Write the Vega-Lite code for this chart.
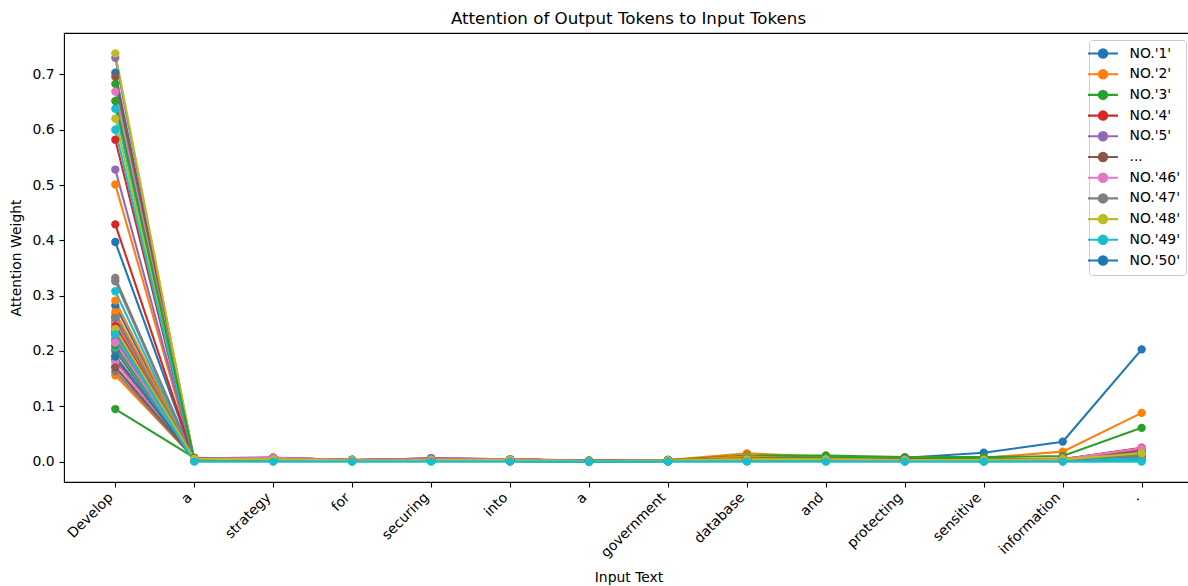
{
  "$schema": "https://vega.github.io/schema/vega-lite/v6.json",
  "autosize": {"type": "none"},
  "padding": {"left": 64, "top": 33, "right": 0, "bottom": 104},
  "width": 1129,
  "height": 449,
  "title": {"text": "Attention of Output Tokens to Input Tokens", "baseline": "alphabetic", "offset": 9, "dy": 17},
  "config": {
    "font": "DejaVu Sans",
    "view": {"stroke": "#000000", "strokeWidth": 1.1},
    "title": {"fontSize": 16.7, "fontWeight": "normal", "color": "#000000", "font": "DejaVu Sans"},
    "axis": {"grid": false, "domain": false, "labelFontSize": 13.9, "titleFontSize": 13.9, "labelColor": "#000000", "titleColor": "#000000", "tickColor": "#000000", "tickSize": 5, "tickWidth": 1.1, "labelPadding": 5, "titleFontWeight": "normal", "labelFont": "DejaVu Sans", "titleFont": "DejaVu Sans"},
    "legend": {"labelFont": "DejaVu Sans"}
  },
  "data": {"values": [
    {"s":1,"i":0,"v":0.282},{"s":1,"i":1,"v":0.005},{"s":1,"i":2,"v":0.004},{"s":1,"i":3,"v":0.002},{"s":1,"i":4,"v":0.003},{"s":1,"i":5,"v":0.003},{"s":1,"i":6,"v":0.001},{"s":1,"i":7,"v":0.002},{"s":1,"i":8,"v":0.008},{"s":1,"i":9,"v":0.008},{"s":1,"i":10,"v":0.007},{"s":1,"i":11,"v":0.016},{"s":1,"i":12,"v":0.036},{"s":1,"i":13,"v":0.203},
    {"s":2,"i":0,"v":0.291},{"s":2,"i":1,"v":0.004},{"s":2,"i":2,"v":0.003},{"s":2,"i":3,"v":0.002},{"s":2,"i":4,"v":0.003},{"s":2,"i":5,"v":0.003},{"s":2,"i":6,"v":0.001},{"s":2,"i":7,"v":0.003},{"s":2,"i":8,"v":0.015},{"s":2,"i":9,"v":0.009},{"s":2,"i":10,"v":0.006},{"s":2,"i":11,"v":0.007},{"s":2,"i":12,"v":0.018},{"s":2,"i":13,"v":0.088},
    {"s":3,"i":0,"v":0.253},{"s":3,"i":1,"v":0.004},{"s":3,"i":2,"v":0.003},{"s":3,"i":3,"v":0.002},{"s":3,"i":4,"v":0.003},{"s":3,"i":5,"v":0.002},{"s":3,"i":6,"v":0.001},{"s":3,"i":7,"v":0.003},{"s":3,"i":8,"v":0.011},{"s":3,"i":9,"v":0.011},{"s":3,"i":10,"v":0.008},{"s":3,"i":11,"v":0.008},{"s":3,"i":12,"v":0.010},{"s":3,"i":13,"v":0.061},
    {"s":4,"i":0,"v":0.184},{"s":4,"i":1,"v":0.005},{"s":4,"i":2,"v":0.004},{"s":4,"i":3,"v":0.002},{"s":4,"i":4,"v":0.004},{"s":4,"i":5,"v":0.003},{"s":4,"i":6,"v":0.001},{"s":4,"i":7,"v":0.002},{"s":4,"i":8,"v":0.005},{"s":4,"i":9,"v":0.005},{"s":4,"i":10,"v":0.004},{"s":4,"i":11,"v":0.004},{"s":4,"i":12,"v":0.004},{"s":4,"i":13,"v":0.025},
    {"s":5,"i":0,"v":0.263},{"s":5,"i":1,"v":0.004},{"s":5,"i":2,"v":0.004},{"s":5,"i":3,"v":0.002},{"s":5,"i":4,"v":0.006},{"s":5,"i":5,"v":0.004},{"s":5,"i":6,"v":0.001},{"s":5,"i":7,"v":0.002},{"s":5,"i":8,"v":0.005},{"s":5,"i":9,"v":0.005},{"s":5,"i":10,"v":0.004},{"s":5,"i":11,"v":0.003},{"s":5,"i":12,"v":0.004},{"s":5,"i":13,"v":0.018},
    {"s":6,"i":0,"v":0.260},{"s":6,"i":1,"v":0.006},{"s":6,"i":2,"v":0.007},{"s":6,"i":3,"v":0.003},{"s":6,"i":4,"v":0.004},{"s":6,"i":5,"v":0.004},{"s":6,"i":6,"v":0.001},{"s":6,"i":7,"v":0.002},{"s":6,"i":8,"v":0.005},{"s":6,"i":9,"v":0.005},{"s":6,"i":10,"v":0.004},{"s":6,"i":11,"v":0.003},{"s":6,"i":12,"v":0.004},{"s":6,"i":13,"v":0.020},
    {"s":7,"i":0,"v":0.250},{"s":7,"i":1,"v":0.005},{"s":7,"i":2,"v":0.007},{"s":7,"i":3,"v":0.003},{"s":7,"i":4,"v":0.004},{"s":7,"i":5,"v":0.004},{"s":7,"i":6,"v":0.001},{"s":7,"i":7,"v":0.002},{"s":7,"i":8,"v":0.004},{"s":7,"i":9,"v":0.004},{"s":7,"i":10,"v":0.003},{"s":7,"i":11,"v":0.003},{"s":7,"i":12,"v":0.003},{"s":7,"i":13,"v":0.022},
    {"s":8,"i":0,"v":0.332},{"s":8,"i":1,"v":0.004},{"s":8,"i":2,"v":0.003},{"s":8,"i":3,"v":0.002},{"s":8,"i":4,"v":0.003},{"s":8,"i":5,"v":0.003},{"s":8,"i":6,"v":0.001},{"s":8,"i":7,"v":0.002},{"s":8,"i":8,"v":0.004},{"s":8,"i":9,"v":0.004},{"s":8,"i":10,"v":0.003},{"s":8,"i":11,"v":0.002},{"s":8,"i":12,"v":0.003},{"s":8,"i":13,"v":0.012},
    {"s":9,"i":0,"v":0.225},{"s":9,"i":1,"v":0.004},{"s":9,"i":2,"v":0.003},{"s":9,"i":3,"v":0.002},{"s":9,"i":4,"v":0.003},{"s":9,"i":5,"v":0.003},{"s":9,"i":6,"v":0.001},{"s":9,"i":7,"v":0.002},{"s":9,"i":8,"v":0.004},{"s":9,"i":9,"v":0.004},{"s":9,"i":10,"v":0.003},{"s":9,"i":11,"v":0.003},{"s":9,"i":12,"v":0.003},{"s":9,"i":13,"v":0.016},
    {"s":10,"i":0,"v":0.308},{"s":10,"i":1,"v":0.003},{"s":10,"i":2,"v":0.002},{"s":10,"i":3,"v":0.001},{"s":10,"i":4,"v":0.002},{"s":10,"i":5,"v":0.002},{"s":10,"i":6,"v":0.001},{"s":10,"i":7,"v":0.001},{"s":10,"i":8,"v":0.002},{"s":10,"i":9,"v":0.002},{"s":10,"i":10,"v":0.002},{"s":10,"i":11,"v":0.001},{"s":10,"i":12,"v":0.002},{"s":10,"i":13,"v":0.005},
    {"s":11,"i":0,"v":0.703},{"s":11,"i":1,"v":0.002},{"s":11,"i":2,"v":0.002},{"s":11,"i":3,"v":0.001},{"s":11,"i":4,"v":0.002},{"s":11,"i":5,"v":0.002},{"s":11,"i":6,"v":0.000},{"s":11,"i":7,"v":0.001},{"s":11,"i":8,"v":0.002},{"s":11,"i":9,"v":0.002},{"s":11,"i":10,"v":0.002},{"s":11,"i":11,"v":0.001},{"s":11,"i":12,"v":0.001},{"s":11,"i":13,"v":0.004},
    {"s":12,"i":0,"v":0.501},{"s":12,"i":1,"v":0.003},{"s":12,"i":2,"v":0.002},{"s":12,"i":3,"v":0.001},{"s":12,"i":4,"v":0.002},{"s":12,"i":5,"v":0.002},{"s":12,"i":6,"v":0.001},{"s":12,"i":7,"v":0.001},{"s":12,"i":8,"v":0.003},{"s":12,"i":9,"v":0.002},{"s":12,"i":10,"v":0.002},{"s":12,"i":11,"v":0.001},{"s":12,"i":12,"v":0.002},{"s":12,"i":13,"v":0.006},
    {"s":13,"i":0,"v":0.683},{"s":13,"i":1,"v":0.002},{"s":13,"i":2,"v":0.001},{"s":13,"i":3,"v":0.001},{"s":13,"i":4,"v":0.002},{"s":13,"i":5,"v":0.001},{"s":13,"i":6,"v":0.000},{"s":13,"i":7,"v":0.001},{"s":13,"i":8,"v":0.002},{"s":13,"i":9,"v":0.002},{"s":13,"i":10,"v":0.001},{"s":13,"i":11,"v":0.001},{"s":13,"i":12,"v":0.001},{"s":13,"i":13,"v":0.004},
    {"s":14,"i":0,"v":0.582},{"s":14,"i":1,"v":0.003},{"s":14,"i":2,"v":0.002},{"s":14,"i":3,"v":0.001},{"s":14,"i":4,"v":0.002},{"s":14,"i":5,"v":0.002},{"s":14,"i":6,"v":0.001},{"s":14,"i":7,"v":0.001},{"s":14,"i":8,"v":0.002},{"s":14,"i":9,"v":0.002},{"s":14,"i":10,"v":0.002},{"s":14,"i":11,"v":0.001},{"s":14,"i":12,"v":0.002},{"s":14,"i":13,"v":0.005},
    {"s":15,"i":0,"v":0.730},{"s":15,"i":1,"v":0.002},{"s":15,"i":2,"v":0.001},{"s":15,"i":3,"v":0.001},{"s":15,"i":4,"v":0.002},{"s":15,"i":5,"v":0.001},{"s":15,"i":6,"v":0.000},{"s":15,"i":7,"v":0.001},{"s":15,"i":8,"v":0.001},{"s":15,"i":9,"v":0.001},{"s":15,"i":10,"v":0.001},{"s":15,"i":11,"v":0.001},{"s":15,"i":12,"v":0.001},{"s":15,"i":13,"v":0.003},
    {"s":16,"i":0,"v":0.696},{"s":16,"i":1,"v":0.002},{"s":16,"i":2,"v":0.002},{"s":16,"i":3,"v":0.001},{"s":16,"i":4,"v":0.002},{"s":16,"i":5,"v":0.001},{"s":16,"i":6,"v":0.000},{"s":16,"i":7,"v":0.001},{"s":16,"i":8,"v":0.002},{"s":16,"i":9,"v":0.001},{"s":16,"i":10,"v":0.001},{"s":16,"i":11,"v":0.001},{"s":16,"i":12,"v":0.001},{"s":16,"i":13,"v":0.003},
    {"s":17,"i":0,"v":0.669},{"s":17,"i":1,"v":0.002},{"s":17,"i":2,"v":0.002},{"s":17,"i":3,"v":0.001},{"s":17,"i":4,"v":0.002},{"s":17,"i":5,"v":0.001},{"s":17,"i":6,"v":0.000},{"s":17,"i":7,"v":0.001},{"s":17,"i":8,"v":0.002},{"s":17,"i":9,"v":0.002},{"s":17,"i":10,"v":0.001},{"s":17,"i":11,"v":0.001},{"s":17,"i":12,"v":0.001},{"s":17,"i":13,"v":0.004},
    {"s":18,"i":0,"v":0.326},{"s":18,"i":1,"v":0.004},{"s":18,"i":2,"v":0.004},{"s":18,"i":3,"v":0.002},{"s":18,"i":4,"v":0.003},{"s":18,"i":5,"v":0.003},{"s":18,"i":6,"v":0.001},{"s":18,"i":7,"v":0.002},{"s":18,"i":8,"v":0.004},{"s":18,"i":9,"v":0.004},{"s":18,"i":10,"v":0.003},{"s":18,"i":11,"v":0.002},{"s":18,"i":12,"v":0.003},{"s":18,"i":13,"v":0.013},
    {"s":19,"i":0,"v":0.738},{"s":19,"i":1,"v":0.002},{"s":19,"i":2,"v":0.001},{"s":19,"i":3,"v":0.001},{"s":19,"i":4,"v":0.001},{"s":19,"i":5,"v":0.001},{"s":19,"i":6,"v":0.000},{"s":19,"i":7,"v":0.001},{"s":19,"i":8,"v":0.001},{"s":19,"i":9,"v":0.001},{"s":19,"i":10,"v":0.001},{"s":19,"i":11,"v":0.001},{"s":19,"i":12,"v":0.001},{"s":19,"i":13,"v":0.003},
    {"s":20,"i":0,"v":0.638},{"s":20,"i":1,"v":0.002},{"s":20,"i":2,"v":0.002},{"s":20,"i":3,"v":0.001},{"s":20,"i":4,"v":0.002},{"s":20,"i":5,"v":0.001},{"s":20,"i":6,"v":0.000},{"s":20,"i":7,"v":0.001},{"s":20,"i":8,"v":0.002},{"s":20,"i":9,"v":0.002},{"s":20,"i":10,"v":0.001},{"s":20,"i":11,"v":0.001},{"s":20,"i":12,"v":0.001},{"s":20,"i":13,"v":0.004},
    {"s":21,"i":0,"v":0.397},{"s":21,"i":1,"v":0.004},{"s":21,"i":2,"v":0.003},{"s":21,"i":3,"v":0.002},{"s":21,"i":4,"v":0.003},{"s":21,"i":5,"v":0.003},{"s":21,"i":6,"v":0.001},{"s":21,"i":7,"v":0.002},{"s":21,"i":8,"v":0.004},{"s":21,"i":9,"v":0.003},{"s":21,"i":10,"v":0.003},{"s":21,"i":11,"v":0.002},{"s":21,"i":12,"v":0.003},{"s":21,"i":13,"v":0.010},
    {"s":22,"i":0,"v":0.156},{"s":22,"i":1,"v":0.006},{"s":22,"i":2,"v":0.005},{"s":22,"i":3,"v":0.003},{"s":22,"i":4,"v":0.004},{"s":22,"i":5,"v":0.004},{"s":22,"i":6,"v":0.002},{"s":22,"i":7,"v":0.003},{"s":22,"i":8,"v":0.007},{"s":22,"i":9,"v":0.006},{"s":22,"i":10,"v":0.005},{"s":22,"i":11,"v":0.004},{"s":22,"i":12,"v":0.005},{"s":22,"i":13,"v":0.015},
    {"s":23,"i":0,"v":0.095},{"s":23,"i":1,"v":0.007},{"s":23,"i":2,"v":0.005},{"s":23,"i":3,"v":0.003},{"s":23,"i":4,"v":0.005},{"s":23,"i":5,"v":0.004},{"s":23,"i":6,"v":0.002},{"s":23,"i":7,"v":0.003},{"s":23,"i":8,"v":0.006},{"s":23,"i":9,"v":0.006},{"s":23,"i":10,"v":0.005},{"s":23,"i":11,"v":0.004},{"s":23,"i":12,"v":0.005},{"s":23,"i":13,"v":0.014},
    {"s":24,"i":0,"v":0.429},{"s":24,"i":1,"v":0.003},{"s":24,"i":2,"v":0.003},{"s":24,"i":3,"v":0.002},{"s":24,"i":4,"v":0.003},{"s":24,"i":5,"v":0.002},{"s":24,"i":6,"v":0.001},{"s":24,"i":7,"v":0.002},{"s":24,"i":8,"v":0.003},{"s":24,"i":9,"v":0.003},{"s":24,"i":10,"v":0.002},{"s":24,"i":11,"v":0.002},{"s":24,"i":12,"v":0.002},{"s":24,"i":13,"v":0.008},
    {"s":25,"i":0,"v":0.528},{"s":25,"i":1,"v":0.003},{"s":25,"i":2,"v":0.002},{"s":25,"i":3,"v":0.001},{"s":25,"i":4,"v":0.003},{"s":25,"i":5,"v":0.002},{"s":25,"i":6,"v":0.001},{"s":25,"i":7,"v":0.001},{"s":25,"i":8,"v":0.002},{"s":25,"i":9,"v":0.002},{"s":25,"i":10,"v":0.002},{"s":25,"i":11,"v":0.001},{"s":25,"i":12,"v":0.002},{"s":25,"i":13,"v":0.006},
    {"s":26,"i":0,"v":0.235},{"s":26,"i":1,"v":0.005},{"s":26,"i":2,"v":0.006},{"s":26,"i":3,"v":0.003},{"s":26,"i":4,"v":0.004},{"s":26,"i":5,"v":0.004},{"s":26,"i":6,"v":0.001},{"s":26,"i":7,"v":0.002},{"s":26,"i":8,"v":0.005},{"s":26,"i":9,"v":0.004},{"s":26,"i":10,"v":0.004},{"s":26,"i":11,"v":0.003},{"s":26,"i":12,"v":0.004},{"s":26,"i":13,"v":0.019},
    {"s":27,"i":0,"v":0.203},{"s":27,"i":1,"v":0.005},{"s":27,"i":2,"v":0.006},{"s":27,"i":3,"v":0.003},{"s":27,"i":4,"v":0.004},{"s":27,"i":5,"v":0.004},{"s":27,"i":6,"v":0.001},{"s":27,"i":7,"v":0.002},{"s":27,"i":8,"v":0.004},{"s":27,"i":9,"v":0.004},{"s":27,"i":10,"v":0.003},{"s":27,"i":11,"v":0.003},{"s":27,"i":12,"v":0.004},{"s":27,"i":13,"v":0.021},
    {"s":28,"i":0,"v":0.239},{"s":28,"i":1,"v":0.004},{"s":28,"i":2,"v":0.004},{"s":28,"i":3,"v":0.002},{"s":28,"i":4,"v":0.003},{"s":28,"i":5,"v":0.003},{"s":28,"i":6,"v":0.001},{"s":28,"i":7,"v":0.002},{"s":28,"i":8,"v":0.004},{"s":28,"i":9,"v":0.004},{"s":28,"i":10,"v":0.003},{"s":28,"i":11,"v":0.002},{"s":28,"i":12,"v":0.003},{"s":28,"i":13,"v":0.012},
    {"s":29,"i":0,"v":0.620},{"s":29,"i":1,"v":0.002},{"s":29,"i":2,"v":0.002},{"s":29,"i":3,"v":0.001},{"s":29,"i":4,"v":0.002},{"s":29,"i":5,"v":0.001},{"s":29,"i":6,"v":0.000},{"s":29,"i":7,"v":0.001},{"s":29,"i":8,"v":0.002},{"s":29,"i":9,"v":0.002},{"s":29,"i":10,"v":0.001},{"s":29,"i":11,"v":0.001},{"s":29,"i":12,"v":0.001},{"s":29,"i":13,"v":0.005},
    {"s":30,"i":0,"v":0.600},{"s":30,"i":1,"v":0.002},{"s":30,"i":2,"v":0.002},{"s":30,"i":3,"v":0.001},{"s":30,"i":4,"v":0.002},{"s":30,"i":5,"v":0.001},{"s":30,"i":6,"v":0.000},{"s":30,"i":7,"v":0.001},{"s":30,"i":8,"v":0.002},{"s":30,"i":9,"v":0.002},{"s":30,"i":10,"v":0.001},{"s":30,"i":11,"v":0.001},{"s":30,"i":12,"v":0.001},{"s":30,"i":13,"v":0.004},
    {"s":31,"i":0,"v":0.230},{"s":31,"i":1,"v":0.005},{"s":31,"i":2,"v":0.004},{"s":31,"i":3,"v":0.002},{"s":31,"i":4,"v":0.003},{"s":31,"i":5,"v":0.003},{"s":31,"i":6,"v":0.001},{"s":31,"i":7,"v":0.002},{"s":31,"i":8,"v":0.005},{"s":31,"i":9,"v":0.004},{"s":31,"i":10,"v":0.004},{"s":31,"i":11,"v":0.003},{"s":31,"i":12,"v":0.004},{"s":31,"i":13,"v":0.011},
    {"s":32,"i":0,"v":0.220},{"s":32,"i":1,"v":0.005},{"s":32,"i":2,"v":0.004},{"s":32,"i":3,"v":0.002},{"s":32,"i":4,"v":0.003},{"s":32,"i":5,"v":0.003},{"s":32,"i":6,"v":0.001},{"s":32,"i":7,"v":0.002},{"s":32,"i":8,"v":0.009},{"s":32,"i":9,"v":0.005},{"s":32,"i":10,"v":0.004},{"s":32,"i":11,"v":0.004},{"s":32,"i":12,"v":0.006},{"s":32,"i":13,"v":0.014},
    {"s":33,"i":0,"v":0.652},{"s":33,"i":1,"v":0.002},{"s":33,"i":2,"v":0.002},{"s":33,"i":3,"v":0.001},{"s":33,"i":4,"v":0.002},{"s":33,"i":5,"v":0.001},{"s":33,"i":6,"v":0.000},{"s":33,"i":7,"v":0.001},{"s":33,"i":8,"v":0.003},{"s":33,"i":9,"v":0.003},{"s":33,"i":10,"v":0.002},{"s":33,"i":11,"v":0.001},{"s":33,"i":12,"v":0.002},{"s":33,"i":13,"v":0.005},
    {"s":34,"i":0,"v":0.190},{"s":34,"i":1,"v":0.005},{"s":34,"i":2,"v":0.004},{"s":34,"i":3,"v":0.002},{"s":34,"i":4,"v":0.004},{"s":34,"i":5,"v":0.003},{"s":34,"i":6,"v":0.001},{"s":34,"i":7,"v":0.002},{"s":34,"i":8,"v":0.005},{"s":34,"i":9,"v":0.005},{"s":34,"i":10,"v":0.004},{"s":34,"i":11,"v":0.003},{"s":34,"i":12,"v":0.004},{"s":34,"i":13,"v":0.024},
    {"s":35,"i":0,"v":0.172},{"s":35,"i":1,"v":0.005},{"s":35,"i":2,"v":0.004},{"s":35,"i":3,"v":0.002},{"s":35,"i":4,"v":0.006},{"s":35,"i":5,"v":0.004},{"s":35,"i":6,"v":0.001},{"s":35,"i":7,"v":0.002},{"s":35,"i":8,"v":0.005},{"s":35,"i":9,"v":0.004},{"s":35,"i":10,"v":0.004},{"s":35,"i":11,"v":0.003},{"s":35,"i":12,"v":0.004},{"s":35,"i":13,"v":0.017},
    {"s":36,"i":0,"v":0.200},{"s":36,"i":1,"v":0.005},{"s":36,"i":2,"v":0.007},{"s":36,"i":3,"v":0.003},{"s":36,"i":4,"v":0.004},{"s":36,"i":5,"v":0.004},{"s":36,"i":6,"v":0.001},{"s":36,"i":7,"v":0.002},{"s":36,"i":8,"v":0.004},{"s":36,"i":9,"v":0.004},{"s":36,"i":10,"v":0.004},{"s":36,"i":11,"v":0.003},{"s":36,"i":12,"v":0.004},{"s":36,"i":13,"v":0.019},
    {"s":37,"i":0,"v":0.180},{"s":37,"i":1,"v":0.005},{"s":37,"i":2,"v":0.007},{"s":37,"i":3,"v":0.003},{"s":37,"i":4,"v":0.004},{"s":37,"i":5,"v":0.004},{"s":37,"i":6,"v":0.001},{"s":37,"i":7,"v":0.002},{"s":37,"i":8,"v":0.004},{"s":37,"i":9,"v":0.004},{"s":37,"i":10,"v":0.003},{"s":37,"i":11,"v":0.003},{"s":37,"i":12,"v":0.004},{"s":37,"i":13,"v":0.023},
    {"s":38,"i":0,"v":0.163},{"s":38,"i":1,"v":0.005},{"s":38,"i":2,"v":0.004},{"s":38,"i":3,"v":0.002},{"s":38,"i":4,"v":0.003},{"s":38,"i":5,"v":0.003},{"s":38,"i":6,"v":0.001},{"s":38,"i":7,"v":0.002},{"s":38,"i":8,"v":0.004},{"s":38,"i":9,"v":0.004},{"s":38,"i":10,"v":0.003},{"s":38,"i":11,"v":0.003},{"s":38,"i":12,"v":0.003},{"s":38,"i":13,"v":0.012},
    {"s":39,"i":0,"v":0.190},{"s":39,"i":1,"v":0.005},{"s":39,"i":2,"v":0.004},{"s":39,"i":3,"v":0.002},{"s":39,"i":4,"v":0.003},{"s":39,"i":5,"v":0.003},{"s":39,"i":6,"v":0.001},{"s":39,"i":7,"v":0.002},{"s":39,"i":8,"v":0.004},{"s":39,"i":9,"v":0.004},{"s":39,"i":10,"v":0.003},{"s":39,"i":11,"v":0.003},{"s":39,"i":12,"v":0.004},{"s":39,"i":13,"v":0.017},
    {"s":40,"i":0,"v":0.206},{"s":40,"i":1,"v":0.003},{"s":40,"i":2,"v":0.002},{"s":40,"i":3,"v":0.001},{"s":40,"i":4,"v":0.002},{"s":40,"i":5,"v":0.002},{"s":40,"i":6,"v":0.001},{"s":40,"i":7,"v":0.001},{"s":40,"i":8,"v":0.002},{"s":40,"i":9,"v":0.002},{"s":40,"i":10,"v":0.002},{"s":40,"i":11,"v":0.001},{"s":40,"i":12,"v":0.002},{"s":40,"i":13,"v":0.006},
    {"s":41,"i":0,"v":0.190},{"s":41,"i":1,"v":0.005},{"s":41,"i":2,"v":0.004},{"s":41,"i":3,"v":0.002},{"s":41,"i":4,"v":0.003},{"s":41,"i":5,"v":0.003},{"s":41,"i":6,"v":0.001},{"s":41,"i":7,"v":0.002},{"s":41,"i":8,"v":0.005},{"s":41,"i":9,"v":0.004},{"s":41,"i":10,"v":0.004},{"s":41,"i":11,"v":0.003},{"s":41,"i":12,"v":0.004},{"s":41,"i":13,"v":0.012},
    {"s":42,"i":0,"v":0.270},{"s":42,"i":1,"v":0.004},{"s":42,"i":2,"v":0.003},{"s":42,"i":3,"v":0.002},{"s":42,"i":4,"v":0.003},{"s":42,"i":5,"v":0.003},{"s":42,"i":6,"v":0.001},{"s":42,"i":7,"v":0.002},{"s":42,"i":8,"v":0.008},{"s":42,"i":9,"v":0.005},{"s":42,"i":10,"v":0.004},{"s":42,"i":11,"v":0.004},{"s":42,"i":12,"v":0.005},{"s":42,"i":13,"v":0.013},
    {"s":43,"i":0,"v":0.210},{"s":43,"i":1,"v":0.005},{"s":43,"i":2,"v":0.004},{"s":43,"i":3,"v":0.002},{"s":43,"i":4,"v":0.003},{"s":43,"i":5,"v":0.003},{"s":43,"i":6,"v":0.001},{"s":43,"i":7,"v":0.002},{"s":43,"i":8,"v":0.006},{"s":43,"i":9,"v":0.007},{"s":43,"i":10,"v":0.005},{"s":43,"i":11,"v":0.004},{"s":43,"i":12,"v":0.004},{"s":43,"i":13,"v":0.013},
    {"s":44,"i":0,"v":0.245},{"s":44,"i":1,"v":0.005},{"s":44,"i":2,"v":0.004},{"s":44,"i":3,"v":0.002},{"s":44,"i":4,"v":0.003},{"s":44,"i":5,"v":0.003},{"s":44,"i":6,"v":0.001},{"s":44,"i":7,"v":0.002},{"s":44,"i":8,"v":0.004},{"s":44,"i":9,"v":0.004},{"s":44,"i":10,"v":0.003},{"s":44,"i":11,"v":0.003},{"s":44,"i":12,"v":0.004},{"s":44,"i":13,"v":0.022},
    {"s":45,"i":0,"v":0.220},{"s":45,"i":1,"v":0.005},{"s":45,"i":2,"v":0.004},{"s":45,"i":3,"v":0.002},{"s":45,"i":4,"v":0.006},{"s":45,"i":5,"v":0.004},{"s":45,"i":6,"v":0.001},{"s":45,"i":7,"v":0.002},{"s":45,"i":8,"v":0.004},{"s":45,"i":9,"v":0.004},{"s":45,"i":10,"v":0.003},{"s":45,"i":11,"v":0.003},{"s":45,"i":12,"v":0.004},{"s":45,"i":13,"v":0.016},
    {"s":46,"i":0,"v":0.170},{"s":46,"i":1,"v":0.006},{"s":46,"i":2,"v":0.007},{"s":46,"i":3,"v":0.003},{"s":46,"i":4,"v":0.004},{"s":46,"i":5,"v":0.004},{"s":46,"i":6,"v":0.001},{"s":46,"i":7,"v":0.002},{"s":46,"i":8,"v":0.004},{"s":46,"i":9,"v":0.004},{"s":46,"i":10,"v":0.004},{"s":46,"i":11,"v":0.003},{"s":46,"i":12,"v":0.004},{"s":46,"i":13,"v":0.020},
    {"s":47,"i":0,"v":0.215},{"s":47,"i":1,"v":0.005},{"s":47,"i":2,"v":0.007},{"s":47,"i":3,"v":0.003},{"s":47,"i":4,"v":0.004},{"s":47,"i":5,"v":0.004},{"s":47,"i":6,"v":0.001},{"s":47,"i":7,"v":0.002},{"s":47,"i":8,"v":0.004},{"s":47,"i":9,"v":0.004},{"s":47,"i":10,"v":0.003},{"s":47,"i":11,"v":0.003},{"s":47,"i":12,"v":0.004},{"s":47,"i":13,"v":0.024},
    {"s":48,"i":0,"v":0.260},{"s":48,"i":1,"v":0.004},{"s":48,"i":2,"v":0.004},{"s":48,"i":3,"v":0.002},{"s":48,"i":4,"v":0.003},{"s":48,"i":5,"v":0.003},{"s":48,"i":6,"v":0.001},{"s":48,"i":7,"v":0.002},{"s":48,"i":8,"v":0.004},{"s":48,"i":9,"v":0.004},{"s":48,"i":10,"v":0.003},{"s":48,"i":11,"v":0.002},{"s":48,"i":12,"v":0.003},{"s":48,"i":13,"v":0.011},
    {"s":49,"i":0,"v":0.240},{"s":49,"i":1,"v":0.005},{"s":49,"i":2,"v":0.004},{"s":49,"i":3,"v":0.002},{"s":49,"i":4,"v":0.003},{"s":49,"i":5,"v":0.003},{"s":49,"i":6,"v":0.001},{"s":49,"i":7,"v":0.002},{"s":49,"i":8,"v":0.004},{"s":49,"i":9,"v":0.004},{"s":49,"i":10,"v":0.003},{"s":49,"i":11,"v":0.003},{"s":49,"i":12,"v":0.004},{"s":49,"i":13,"v":0.015},
    {"s":50,"i":0,"v":0.230},{"s":50,"i":1,"v":0.000},{"s":50,"i":2,"v":0.000},{"s":50,"i":3,"v":0.000},{"s":50,"i":4,"v":0.000},{"s":50,"i":5,"v":0.000},{"s":50,"i":6,"v":0.000},{"s":50,"i":7,"v":0.000},{"s":50,"i":8,"v":0.000},{"s":50,"i":9,"v":0.000},{"s":50,"i":10,"v":0.000},{"s":50,"i":11,"v":0.000},{"s":50,"i":12,"v":0.000},{"s":50,"i":13,"v":0.000}
  ]},
  "encoding": {
    "x": {
      "field": "i", "type": "quantitative",
      "scale": {"domain": [-0.65, 13.65], "nice": false, "zero": false},
      "axis": {
        "title": "Input Text",
        "values": [0,1,2,3,4,5,6,7,8,9,10,11,12,13],
        "labelExpr": "['Develop','a','strategy','for','securing','into','a','government','database','and','protecting','sensitive','information','.'][datum.value]",
        "labelAngle": -45, "labelAlign": "right", "labelBaseline": "bottom",
        "labelPadding": 13, "titlePadding": 11, "labelOverlap": false, "labelFlush": false
      }
    },
    "y": {
      "field": "v", "type": "quantitative",
      "scale": {"domain": [-0.0369, 0.7749], "nice": false, "zero": false},
      "axis": {"title": "Attention Weight", "values": [0,0.1,0.2,0.3,0.4,0.5,0.6,0.7], "format": ".1f", "titlePadding": 8, "labelFlush": false}
    },
    "color": {
      "field": "s", "type": "nominal",
      "scale": {
        "domain": [1,2,3,4,5,6,7,8,9,10,11,12,13,14,15,16,17,18,19,20,21,22,23,24,25,26,27,28,29,30,31,32,33,34,35,36,37,38,39,40,41,42,43,44,45,46,47,48,49,50],
        "range": ["#1f77b4","#ff7f0e","#2ca02c","#d62728","#9467bd","#8c564b","#e377c2","#7f7f7f","#bcbd22","#17becf",
                  "#1f77b4","#ff7f0e","#2ca02c","#d62728","#9467bd","#8c564b","#e377c2","#7f7f7f","#bcbd22","#17becf",
                  "#1f77b4","#ff7f0e","#2ca02c","#d62728","#9467bd","#8c564b","#e377c2","#7f7f7f","#bcbd22","#17becf",
                  "#1f77b4","#ff7f0e","#2ca02c","#d62728","#9467bd","#8c564b","#e377c2","#7f7f7f","#bcbd22","#17becf",
                  "#1f77b4","#ff7f0e","#2ca02c","#d62728","#9467bd","#8c564b","#e377c2","#7f7f7f","#bcbd22","#17becf"]
      },
      "legend": {
        "title": null,
        "values": [1,2,3,4,5,6,7,8,9,10,11],
        "labelExpr": "datum.value <= 5 ? \"NO.'\" + datum.value + \"'\" : datum.value == 6 ? '...' : \"NO.'\" + (datum.value + 39) + \"'\"",
        "orient": "top-right", "offset": 7, "padding": 6,
        "strokeColor": "#cccccc", "fillColor": "rgba(255,255,255,0.8)", "cornerRadius": 3,
        "rowPadding": 3.7, "labelFontSize": 13.9, "labelColor": "#000000", "labelOffset": 19,
        "symbolType": "M-2.5,0L2.5,0M0.7,0A0.7,0.7,0,1,1,-0.7,0A0.7,0.7,0,1,1,0.7,0Z",
        "symbolSize": 144, "symbolStrokeWidth": 2.1, "symbolOffset": 0.5,
        "encode": {"symbols": {"update": {"fill": {"scale": "color", "field": "value"}, "stroke": {"scale": "color", "field": "value"}, "opacity": {"value": 1}, "fillOpacity": {"value": 1}, "strokeOpacity": {"value": 1}}}}
      }
    }
  },
  "layer": [
    {"mark": {"type": "line", "strokeWidth": 2.1}},
    {"mark": {"type": "point", "filled": true, "size": 69, "opacity": 1, "shape": "circle"}}
  ]
}
